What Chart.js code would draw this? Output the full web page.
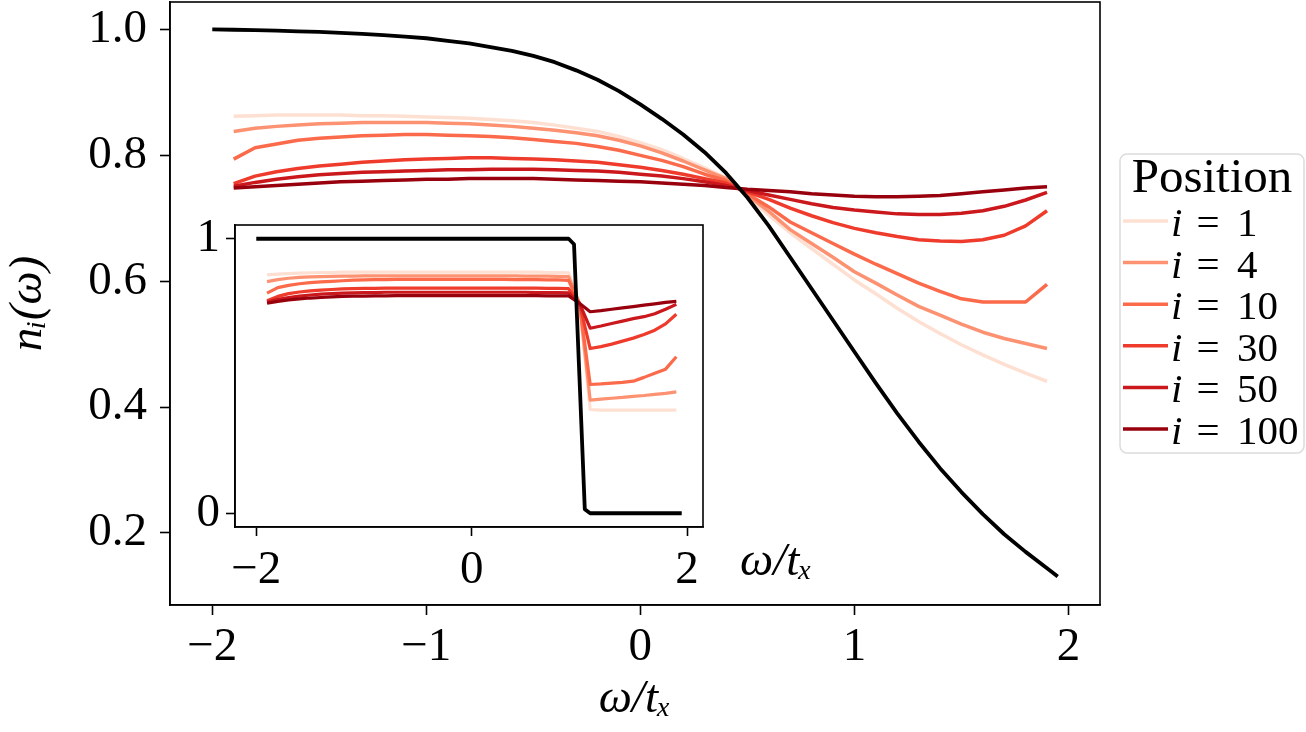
<!DOCTYPE html>
<html><head><meta charset="utf-8">
<script src="https://cdn.jsdelivr.net/npm/chart.js@4.4.1/dist/chart.umd.min.js"></script>
<style>
html,body{margin:0;padding:0;background:#fff;}
#wrap{position:relative;width:1306px;height:732px;overflow:hidden;}
#main{position:absolute;left:0;top:0;}
#inset{position:absolute;left:170px;top:215px;}
</style></head><body>
<div id="wrap">
<canvas id="main" width="1306" height="732"></canvas>
<canvas id="inset" width="710" height="385"></canvas>
</div>
<script>
// ---------- data ----------
const omega = [-1.9,-1.8,-1.7,-1.6,-1.5,-1.4,-1.3,-1.2,-1.1,-1.0,-0.9,-0.8,-0.7,-0.6,-0.5,-0.4,-0.3,-0.2,-0.1,0.0,
  0.1,0.2,0.3,0.4,0.5,0.6,0.7,0.8,0.9,1.0,1.1,1.2,1.3,1.4,1.5,1.6,1.7,1.8,1.9];
const omegaFree = [-2.0,-1.9,-1.8,-1.7,-1.6,-1.5,-1.4,-1.3,-1.2,-1.1,-1.0,-0.9,-0.8,-0.7,-0.6,-0.5,-0.4,-0.3,-0.2,-0.1,0.0,
  0.1,0.2,0.3,0.4,0.5,0.6,0.7,0.8,0.9,1.0,1.1,1.2,1.3,1.4,1.5,1.6,1.7,1.8,1.9,1.95];
const nFree = [1.000,0.9995,0.999,0.998,0.997,0.996,0.9945,0.993,0.991,0.9885,0.986,0.982,0.978,0.972,0.966,0.958,0.948,0.935,0.920,0.902,0.881,
  0.858,0.833,0.805,0.772,0.733,0.688,0.638,0.588,0.538,0.488,0.438,0.390,0.345,0.303,0.265,0.230,0.198,0.170,0.144,0.131];

const positions = [1, 4, 10, 30, 50, 100];
const n1 = [0.862,0.863,0.864,0.864,0.864,0.864,0.863,0.863,0.862,0.861,0.860,0.859,0.857,0.855,0.852,0.848,0.843,0.838,0.830,0.820,
  0.809,0.795,0.780,0.764,0.735,0.705,0.677,0.652,0.627,0.602,0.580,0.557,0.536,0.517,0.499,0.483,0.468,0.454,0.441];
const n4 = [0.838,0.843,0.846,0.848,0.850,0.851,0.852,0.852,0.852,0.852,0.851,0.850,0.848,0.846,0.843,0.840,0.836,0.831,0.824,0.815,
  0.804,0.791,0.777,0.763,0.737,0.711,0.682,0.660,0.638,0.615,0.597,0.578,0.560,0.546,0.532,0.519,0.509,0.501,0.493];
const n10 = [0.794,0.812,0.818,0.824,0.827,0.829,0.831,0.832,0.833,0.833,0.832,0.831,0.830,0.828,0.825,0.822,0.819,0.814,0.808,0.800,
  0.792,0.782,0.770,0.760,0.739,0.718,0.694,0.677,0.660,0.643,0.627,0.612,0.597,0.584,0.572,0.567,0.567,0.567,0.595];
const n30 = [0.755,0.767,0.774,0.779,0.783,0.786,0.789,0.791,0.793,0.794,0.795,0.796,0.796,0.795,0.794,0.793,0.791,0.789,0.785,0.781,
  0.776,0.770,0.763,0.756,0.742,0.730,0.716,0.704,0.693,0.684,0.677,0.671,0.666,0.664,0.663,0.666,0.673,0.688,0.712];
const n50 = [0.751,0.757,0.762,0.766,0.769,0.771,0.773,0.774,0.775,0.776,0.777,0.777,0.778,0.778,0.778,0.777,0.776,0.775,0.773,0.770,
  0.767,0.763,0.758,0.752,0.744,0.737,0.730,0.723,0.717,0.713,0.710,0.707,0.706,0.706,0.708,0.712,0.719,0.729,0.741];
const n100 = [0.748,0.750,0.752,0.754,0.756,0.758,0.759,0.760,0.761,0.762,0.762,0.763,0.763,0.763,0.763,0.762,0.761,0.760,0.759,0.758,
  0.756,0.754,0.752,0.749,0.746,0.744,0.742,0.739,0.737,0.735,0.734,0.734,0.735,0.736,0.739,0.742,0.745,0.748,0.750];

// inset (step limit)
const omegaStep = [-2.0,-1.0,0.0,0.9,0.95,1.0,1.05,1.1,1.5,1.95];
const nStep = [1,1,1,1,0.98,0.5,0.015,0,0,0];
const s1 = [0.868,0.871,0.873,0.875,0.876,0.877,0.877,0.878,0.878,0.878,0.878,0.878,0.878,0.878,0.878,0.878,0.878,0.878,0.878,0.878,
  0.878,0.878,0.878,0.878,0.878,0.878,0.877,0.877,0.876,0.765,0.378,0.376,0.376,0.376,0.376,0.376,0.376,0.376,0.376];
const s4 = [0.844,0.851,0.856,0.859,0.861,0.862,0.863,0.864,0.864,0.865,0.865,0.865,0.865,0.865,0.865,0.865,0.865,0.865,0.865,0.865,
  0.865,0.865,0.865,0.865,0.864,0.864,0.864,0.863,0.862,0.765,0.412,0.416,0.419,0.422,0.426,0.429,0.433,0.437,0.442];
const s10 = [0.802,0.822,0.830,0.836,0.840,0.843,0.845,0.847,0.849,0.850,0.851,0.851,0.852,0.852,0.852,0.852,0.852,0.852,0.852,0.852,
  0.852,0.852,0.852,0.851,0.851,0.851,0.850,0.850,0.848,0.765,0.469,0.471,0.474,0.477,0.481,0.495,0.510,0.525,0.570];
const s30 = [0.774,0.790,0.800,0.806,0.810,0.813,0.815,0.817,0.818,0.819,0.819,0.820,0.820,0.820,0.820,0.820,0.820,0.820,0.820,0.820,
  0.820,0.820,0.820,0.820,0.820,0.820,0.819,0.819,0.818,0.765,0.600,0.607,0.616,0.627,0.638,0.651,0.667,0.690,0.725];
const s50 = [0.769,0.779,0.786,0.791,0.795,0.798,0.800,0.802,0.803,0.804,0.804,0.805,0.805,0.805,0.805,0.805,0.805,0.805,0.805,0.805,
  0.805,0.805,0.805,0.805,0.805,0.804,0.804,0.804,0.803,0.765,0.674,0.682,0.691,0.700,0.709,0.716,0.727,0.743,0.761];
const s100 = [0.765,0.772,0.777,0.781,0.784,0.786,0.788,0.790,0.791,0.791,0.792,0.792,0.793,0.793,0.793,0.793,0.793,0.793,0.793,0.793,
  0.793,0.793,0.793,0.793,0.793,0.793,0.792,0.792,0.792,0.765,0.734,0.738,0.743,0.748,0.753,0.758,0.763,0.768,0.772];

const seriesColors = ['#fee0d2','#fc9272','#fb6a4a','#ef3b2c','#cb181d','#99000d'];
const xTicksMain = [-2, -1, 0, 1, 2];
const yTicksMain = [0.2, 0.4, 0.6, 0.8, 1.0];
const xTicksInset = [-2, 0, 2];
const yTicksInset = [0, 1];
const legendTitle = 'Position';
const xTitleText = 'ω/tₓ';
const yTitleText = 'nᵢ(ω)';

// ---------- helpers ----------
const FAM = "'Liberation Serif','DejaVu Serif',serif";
const pts = (xs, ys) => xs.map((x, i) => ({x: x, y: ys[i]}));
const fmtX = v => (v < 0 ? '\u2212' + Math.abs(v) : String(v));
const lineBase = {pointRadius: 0, pointHoverRadius: 0, tension: 0, fill: false, borderCapStyle: 'butt', borderJoinStyle: 'round'};

function axisCommon(tickLen, tickPad) {
  return {
    grid: {display: true, drawOnChartArea: false, drawTicks: true, tickLength: tickLen, tickWidth: 1.6, tickColor: '#000'},
    border: {display: true, color: '#000', width: 1.6},
    ticks: {color: '#000', font: {family: FAM, size: 47}, padding: tickPad, autoSkip: false, maxRotation: 0}
  };
}

const frame = {
  id: 'frame',
  beforeDraw(chart, args, opts) {
    if (!opts.fill) return;
    const a = chart.chartArea, ctx = chart.ctx;
    ctx.save(); ctx.fillStyle = '#fff';
    ctx.fillRect(a.left, a.top, a.right - a.left, a.bottom - a.top);
    ctx.restore();
  },
  afterDraw(chart) {
    const a = chart.chartArea, ctx = chart.ctx;
    ctx.save(); ctx.strokeStyle = '#000'; ctx.lineWidth = 1.6;
    ctx.strokeRect(a.left, a.top, a.right - a.left, a.bottom - a.top);
    ctx.restore();
  }
};

const posLegend = {
  id: 'posLegend',
  afterDraw(chart) {
    const ctx = chart.ctx, a = chart.chartArea;
    const w = 184, h = 299;
    const x0 = a.right + 20, y0 = (a.top + a.bottom) / 2 - h / 2;
    ctx.save();
    ctx.beginPath();
    ctx.roundRect(x0, y0, w, h, 7);
    ctx.fillStyle = 'rgba(255,255,255,0.8)'; ctx.fill();
    ctx.strokeStyle = '#dcdcdc'; ctx.lineWidth = 1.5; ctx.stroke();
    ctx.fillStyle = '#000';
    ctx.textBaseline = 'alphabetic';
    ctx.textAlign = 'center';
    ctx.font = '49px ' + FAM;
    ctx.fillText(legendTitle, x0 + w / 2, y0 + 38);
    const items = chart.data.datasets.filter(d => d.posIndex !== undefined)
      .sort((p, q) => p.posIndex - q.posIndex);
    items.forEach((d, k) => {
      const ly = y0 + 67 + k * 41.6;
      ctx.strokeStyle = d.borderColor; ctx.lineWidth = d.borderWidth;
      ctx.beginPath(); ctx.moveTo(x0 + 3, ly); ctx.lineTo(x0 + 48, ly); ctx.stroke();
      ctx.fillStyle = '#000';
      ctx.textAlign = 'left';
      ctx.font = 'italic 41px ' + FAM;
      ctx.fillText('i', x0 + 51, ly + 15);
      ctx.font = '41px ' + FAM;
      ctx.textAlign = 'center';
      ctx.fillText('=', x0 + 88, ly + 15);
      ctx.textAlign = 'left';
      ctx.fillText(String(positions[d.posIndex]), x0 + 117, ly + 15);
    });
    ctx.restore();
  }
};

const insetXTitle = {
  id: 'insetXTitle',
  afterDraw(chart) {
    const ctx = chart.ctx, a = chart.chartArea;
    ctx.save();
    ctx.fillStyle = '#000';
    ctx.textAlign = 'left'; ctx.textBaseline = 'alphabetic';
    ctx.font = 'italic 47px ' + FAM;
    ctx.fillText(xTitleText, a.right + 37, a.bottom + 48);
    ctx.restore();
  }
};

const noPadV = s => { s.paddingTop = 0; s.paddingBottom = 0; };
const noPadH = s => { s.paddingLeft = 0; s.paddingRight = 0; };

// ---------- main chart ----------
const mainSeries = [n1, n4, n10, n30, n50, n100];
const mainSets = [Object.assign({label: 'free', data: pts(omegaFree, nFree), borderColor: '#000', borderWidth: 3.8, order: 0}, lineBase)];
positions.forEach((p, k) => mainSets.push(Object.assign({
  label: 'i = ' + p, posIndex: k, data: pts(omega, mainSeries[k]),
  borderColor: seriesColors[k], borderWidth: 3.5, order: 6 - k}, lineBase)));

const mx = axisCommon(10, 4), my = axisCommon(10, 13);
new Chart(document.getElementById('main'), {
  type: 'line',
  data: {datasets: mainSets},
  options: {
    responsive: false, animation: false, events: [],
    layout: {padding: {left: 0, top: 2, right: 206, bottom: 0}},
    plugins: {legend: {display: false}, tooltip: {enabled: false}, frame: {fill: false}},
    scales: {
      x: Object.assign(mx, {
        type: 'linear', position: 'bottom', min: -2.1975, max: 2.1475,
        afterBuildTicks: s => { s.ticks = xTicksMain.map(v => ({value: v})); },
        afterFit: s => { s.height = 127; noPadH(s); },
        ticks: Object.assign(mx.ticks, {callback: v => fmtX(v)}),
        title: {display: true, text: xTitleText, color: '#000', font: {family: FAM, size: 47, style: 'italic'}, padding: {top: 0, bottom: 4}}
      }),
      y: Object.assign(my, {
        type: 'linear', position: 'left', min: 0.0856, max: 1.0436,
        afterBuildTicks: s => { s.ticks = yTicksMain.map(v => ({value: v})); },
        afterFit: s => { s.width = 170; noPadV(s); },
        ticks: Object.assign(my.ticks, {callback: v => v.toFixed(1)}),
        title: {display: true, text: yTitleText, color: '#000', font: {family: FAM, size: 47, style: 'italic'}, padding: {top: 0, bottom: 0}}
      })
    }
  },
  plugins: [frame, posLegend]
});

// ---------- inset chart ----------
const insetSeries = [s1, s4, s10, s30, s50, s100];
const insetSets = [Object.assign({label: 'T = 0', data: pts(omegaStep, nStep), borderColor: '#000', borderWidth: 3.8, order: 0}, lineBase)];
positions.forEach((p, k) => insetSets.push(Object.assign({
  label: 'i = ' + p, data: pts(omega, insetSeries[k]),
  borderColor: seriesColors[k], borderWidth: 3.2, order: 6 - k}, lineBase)));

const ix = axisCommon(9, 6), iy = axisCommon(9, 6);
new Chart(document.getElementById('inset'), {
  type: 'line',
  data: {datasets: insetSets},
  options: {
    responsive: false, animation: false, events: [],
    layout: {padding: {left: 0, top: 10, right: 177, bottom: 0}},
    plugins: {legend: {display: false}, tooltip: {enabled: false}, frame: {fill: true}},
    scales: {
      x: Object.assign(ix, {
        type: 'linear', position: 'bottom', min: -2.1975, max: 2.1475,
        afterBuildTicks: s => { s.ticks = xTicksInset.map(v => ({value: v})); },
        afterFit: s => { s.height = 73; noPadH(s); },
        ticks: Object.assign(ix.ticks, {callback: v => fmtX(v)})
      }),
      y: Object.assign(iy, {
        type: 'linear', position: 'left', min: -0.05, max: 1.05,
        afterBuildTicks: s => { s.ticks = yTicksInset.map(v => ({value: v})); },
        afterFit: s => { s.width = 65; noPadV(s); },
        ticks: Object.assign(iy.ticks, {callback: v => String(v)})
      })
    }
  },
  plugins: [frame, insetXTitle]
});
</script>
</body></html>
